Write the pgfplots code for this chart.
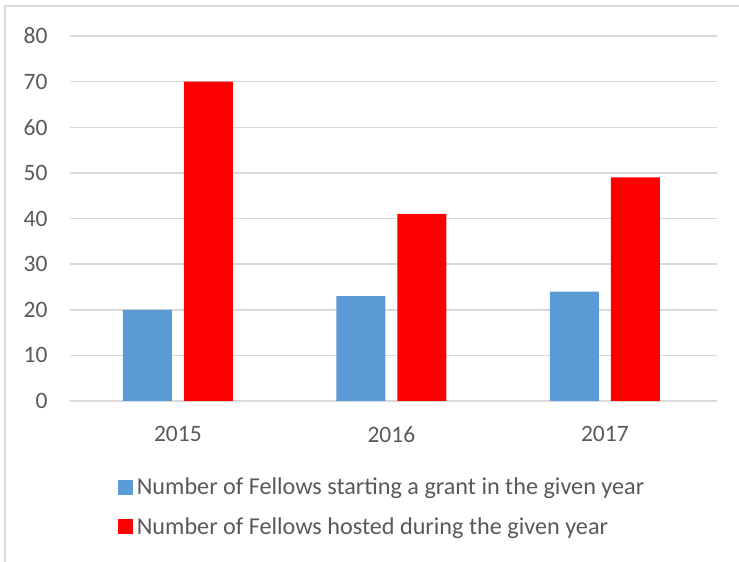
\documentclass[border=0pt]{standalone}
\usepackage{fontspec}
\setmainfont{Carlito}
\usepackage{pgfplots}
\pgfplotsset{compat=1.18}
\definecolor{fellowblue}{HTML}{5B9BD5}
\definecolor{fellowred}{HTML}{FF0000}
\definecolor{gridgray}{HTML}{D9D9D9}
\definecolor{textgray}{HTML}{595959}
\begin{document}
\begin{tikzpicture}
\useasboundingbox (0pt,0pt) rectangle (739pt,562pt);
% outer chart frame (runs off the right and bottom edges)
\draw[gridgray, line width=2pt] (5pt,-20pt) -- (5pt,556pt) -- (760pt,556pt);
\begin{axis}[
    at={(70pt,161pt)}, anchor=south west,
    scale only axis,
    width=647pt, height=365pt,
    ybar=0pt,
    bar width=49pt,
    xmin=-0.505, xmax=2.525,
    ymin=0, ymax=80,
    ytick={0,10,...,80},
    xtick=data,
    xticklabels={2015,2016,2017},
    axis x line*=bottom,
    axis y line*=left,
    y axis line style={draw=none},
    x axis line style={gridgray, line width=1.5pt},
    ymajorgrids,
    major grid style={gridgray, line width=1.5pt},
    major tick length=0pt,
    tick style={draw=none},
    /pgf/number format/assume math mode=true,
    ticklabel style={font=\fontsize{23.5}{28}\selectfont, text=textgray},
    yticklabel style={xshift=-19pt},
    xticklabel style={yshift=-22pt},
    legend style={
        at={(0.069,-0.2)}, anchor=north west,
        draw=none, fill=none,
        font=\fontsize{24.2}{29}\selectfont,
        text=textgray,
        row sep=17pt,
        legend columns=1,
    },
    legend cell align={left},
    legend image code/.code={
        \fill[#1] (0pt,-7.5pt) rectangle (15pt,7.5pt);
        \path (0pt,0pt) -- (17pt,0pt);
    },
]
\addplot[fill=fellowblue, draw=none, bar shift=-30.5pt]
    coordinates {(0,20) (1,23) (2,24)};
\addlegendentry{Number of Fellows starting a grant in the given year}
\addplot[fill=fellowred, draw=none, bar shift=30.5pt]
    coordinates {(0,70) (1,41) (2,49)};
\addlegendentry{Number of Fellows hosted during the given year}
\end{axis}
\end{tikzpicture}
\end{document}
